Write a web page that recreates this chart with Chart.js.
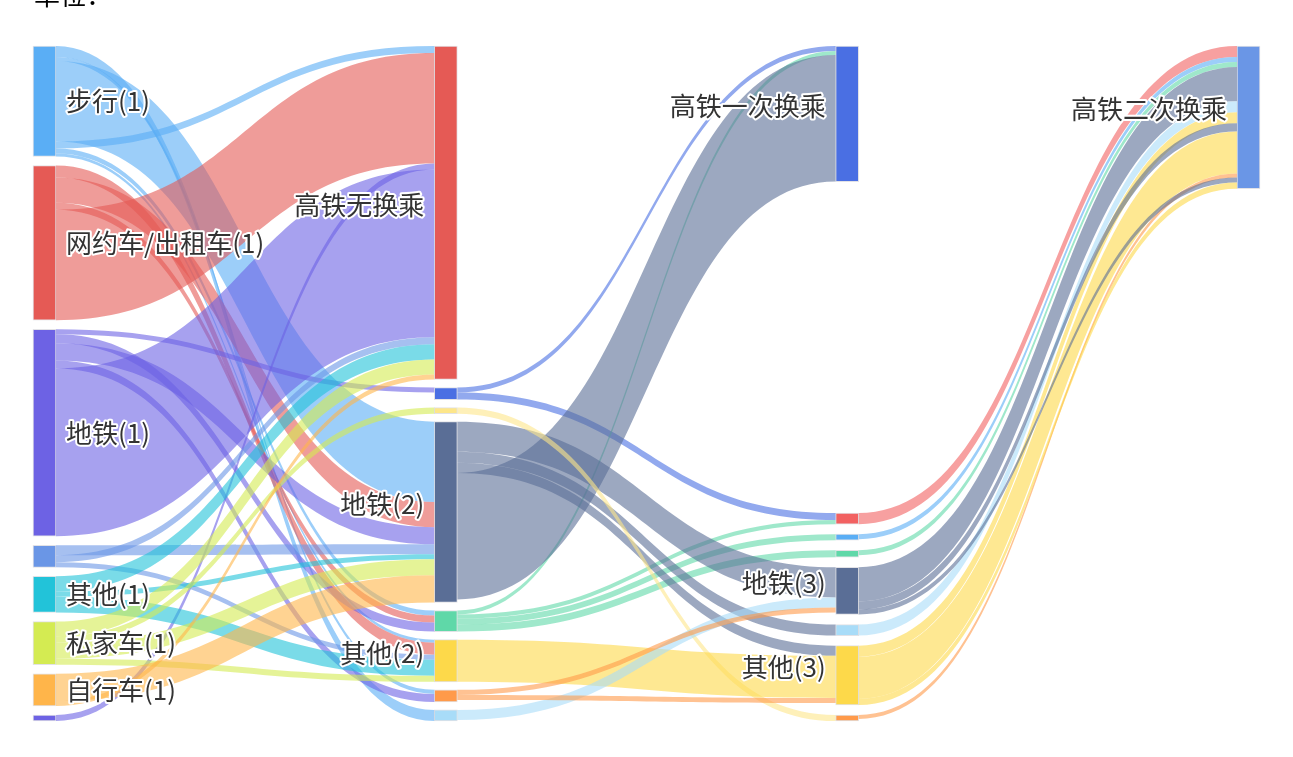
<!DOCTYPE html>
<html><head><meta charset="utf-8">
<script src="https://cdn.jsdelivr.net/npm/chart.js@4.4.1/dist/chart.umd.min.js"></script>
<style>
html,body{margin:0;padding:0;background:#fff;overflow:hidden}
#wrap{position:relative;width:1293px;height:757px}
#unit{position:absolute;left:34px;top:-21px;font-size:26px;font-family:"Noto Sans CJK SC";color:#000;line-height:30px;white-space:nowrap}
</style></head><body>
<div id="wrap"><canvas id="c"></canvas><div id="unit">单位：</div></div>
<script>
// ---- data ----
const nodeLabels = [
  '步行(1)','网约车/出租车(1)','地铁(1)','','其他(1)','私家车(1)','自行车(1)','',
  '高铁无换乘','','','地铁(2)','','其他(2)','','',
  '高铁一次换乘','','','','地铁(3)','','其他(3)','',
  '高铁二次换乘'
];
const nodeColumn = [0,0,0,0,0,0,0,0, 1,1,1,1,1,1,1,1, 2,2,2,2,2,2,2,2, 3];
const nodeColors = [
  '#5aaef5','#e55a55','#6d62e4','#6a96e6','#22c3d9','#d4eb52','#ffb54a','#6d62e4',
  '#e55a55','#4a6fe3','#fde68a','#5a6e96','#5fd8a8','#fdd94a','#ff9a4a','#a8dcf8',
  '#4a6fe3','#f26161','#5aaef5','#5fd8a8','#5a6e96','#a8dcf8','#fdd94a','#ff9a4a',
  '#6a96e6'
];
const linkSource = [
  0,0,0,0,0,0, 1,1,1,1, 7, 2,2,2,2,2, 3,3,3, 4,4,4, 5,5,5,5, 6,6,
  9,9,12,12,12,12,11,11,11,11,10,13,15,14,14,
  17,18,19,20,21,22,20,22,23,20,22
];
const linkTarget = [
  15,14,11,8,12,13, 13,11,12,8, 8, 9,12,11,14,8, 11,8,13, 8,11,13, 8,10,11,13, 11,8,
  16,17,16,17,18,19,20,21,22,16,23,22,20,20,22,
  24,24,24,24,24,24,24,24,24,24,24
];
const linkValue = [
  11,4,80,7,5,3, 12,25,7,110, 6, 5,9,17,8,167, 10,7,5, 15,5,16, 15,6,16,6, 27,5,
  5,7,4,4,6,7,30,11,10,126,6,42,10,5,5,
  11,5,5,34,11,11,8,42,4,5,6
];

// ---- sankey layout (in value units) ----
const NODE_W = 23, NODE_GAP = 8, MAX_GAP = 10, LINK_ALPHA = 0.6;
const N = nodeLabels.length;
const inSum = new Array(N).fill(0), outSum = new Array(N).fill(0);
linkValue.forEach((v, i) => { outSum[linkSource[i]] += v; inSum[linkTarget[i]] += v; });
const nodeValue = inSum.map((v, i) => Math.max(v, outSum[i]));
const nCols = Math.max(...nodeColumn) + 1;
const cols = Array.from({length: nCols}, (_, c) => nodeColumn.map((col, i) => col === c ? i : -1).filter(i => i >= 0));
const colSum = cols.map(c => c.reduce((a, i) => a + nodeValue[i], 0));
const H = Math.max(...cols.map((c, k) => colSum[k] + (c.length - 1) * NODE_GAP));
const nodeTop = new Array(N).fill(0);
cols.forEach((c, k) => {
  if (k === 0) {
    const g = c.length > 1 ? (H - colSum[k]) / (c.length - 1) : 0;
    let y = 0;
    c.forEach(i => { nodeTop[i] = y; y += nodeValue[i] + g; });
  } else {
    const term = c.filter(i => outSum[i] === 0), rest = c.filter(i => outSum[i] > 0);
    let y = 0;
    term.forEach(i => { nodeTop[i] = y; y += nodeValue[i] + NODE_GAP; });
    const restSum = rest.reduce((a, i) => a + nodeValue[i], 0);
    const gap = rest.length > 1 ? Math.min(MAX_GAP, (H - y - restSum) / (rest.length - 1)) : 0;
    let yb = H;
    rest.slice().reverse().forEach(i => { yb -= nodeValue[i]; nodeTop[i] = yb; yb -= gap; });
  }
});
const srcY = [], tgtY = [];
const outAcc = nodeTop.slice(), inAcc = nodeTop.slice();
linkValue.forEach((v, i) => {
  srcY.push(outAcc[linkSource[i]]); outAcc[linkSource[i]] += v;
  tgtY.push(inAcc[linkTarget[i]]); inAcc[linkTarget[i]] += v;
});

function rgba(hex, a) {
  const n = parseInt(hex.slice(1), 16);
  return `rgba(${n >> 16},${(n >> 8) & 255},${n & 255},${a})`;
}

const sankeyPlugin = {
  id: 'sankey',
  beforeDatasetsDraw(chart) {
    const {ctx, scales: {x, y}} = chart;
    ctx.save();
    linkValue.forEach((v, i) => {
      const s = linkSource[i], t = linkTarget[i];
      const x1 = x.getPixelForValue(nodeColumn[s]) + NODE_W / 2;
      const x2 = x.getPixelForValue(nodeColumn[t]) - NODE_W / 2;
      const a1 = y.getPixelForValue(srcY[i]), b1 = y.getPixelForValue(srcY[i] + v);
      const a2 = y.getPixelForValue(tgtY[i]), b2 = y.getPixelForValue(tgtY[i] + v);
      const cx = (x1 + x2) / 2;
      ctx.beginPath();
      ctx.moveTo(x1, a1);
      ctx.bezierCurveTo(cx, a1, cx, a2, x2, a2);
      ctx.lineTo(x2, b2);
      ctx.bezierCurveTo(cx, b2, cx, b1, x1, b1);
      ctx.closePath();
      ctx.fillStyle = rgba(nodeColors[s], LINK_ALPHA);
      ctx.fill();
    });
    ctx.restore();
  },
  afterDatasetsDraw(chart) {
    const {ctx, scales: {x, y}} = chart;
    ctx.save();
    ctx.font = '26px "Noto Sans CJK SC"';
    ctx.textBaseline = 'middle';
    ctx.lineJoin = 'round';
    ctx.lineWidth = 4;
    ctx.strokeStyle = '#ffffff';
    ctx.fillStyle = '#333333';
    nodeLabels.forEach((lab, i) => {
      if (!lab) return;
      const c = nodeColumn[i];
      const cy = y.getPixelForValue(nodeTop[i] + nodeValue[i] / 2);
      let px, py;
      if (c === 0) { ctx.textAlign = 'left'; px = x.getPixelForValue(c) + NODE_W / 2 + 10; py = cy; }
      else { ctx.textAlign = 'right'; px = x.getPixelForValue(c) - NODE_W / 2 - 10; py = cy - 8; }
      ctx.strokeText(lab, px, py);
      ctx.fillText(lab, px, py);
    });
    ctx.restore();
  }
};

new Chart(document.getElementById('c'), {
  type: 'bar',
  data: {
    datasets: [{
      data: nodeValue.map((v, i) => ({x: nodeColumn[i], y: [nodeTop[i], nodeTop[i] + v]})),
      backgroundColor: nodeColors,
      borderColor: 'rgba(190,190,200,0.45)',
      borderWidth: 1,
      borderSkipped: false,
      barThickness: NODE_W,
      clip: false
    }]
  },
  options: {
    responsive: true,
    maintainAspectRatio: false,
    animation: false,
    layout: {padding: {left: 44.5, right: 44.5, top: 46, bottom: 36}},
    scales: {
      x: {type: 'linear', min: 0, max: nCols - 1, offset: false, display: false},
      y: {type: 'linear', min: 0, max: H, reverse: true, display: false}
    },
    plugins: {legend: {display: false}, tooltip: {enabled: false}}
  },
  plugins: [sankeyPlugin]
});
</script>
</body></html>
